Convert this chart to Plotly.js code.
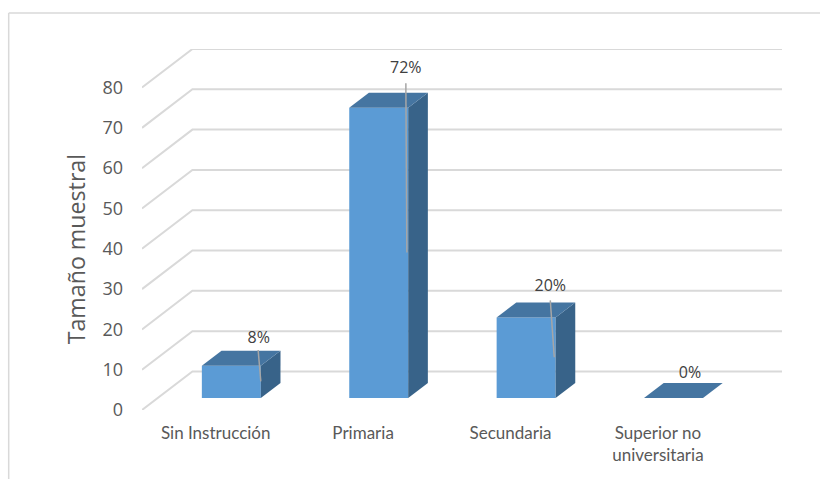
<!DOCTYPE html>
<html>
<head>
<meta charset="utf-8">
<script src="https://cdn.plot.ly/plotly-3.0.1.min.js"></script>
<style>html,body{margin:0;padding:0;background:#fff}#chart{width:820px;height:479px}</style>
</head>
<body>
<div id="chart"></div>
<script>
// Sample composition by education level, drawn as pseudo-3D columns.
const categories = ["Sin Instrucción", "Primaria", "Secundaria", "Superior no<br>universitaria"];
const percentages = [8, 72, 20, 0];
const yTicks = [0, 10, 20, 30, 40, 50, 60, 70, 80];

// Leader lines from each data label down into its column, in axis values.
const leaderTop = [14.9, 81.1, 27.2];
const leaderBottom = [7.1, 39.1, 13.1];
const leaderTopShift = [0.288, 0.29, 0.27];
const leaderBottomShift = [0.306, 0.297, 0.297];

// Data label anchors relative to each column.
const labelShiftX = [0.292, 0.29, 0.27, 0.218];
const labelShiftY = [9.7, 12.5, 10.6, 9.0];

// Oblique projection: axis units gained per unit of depth.
const depthX = 0.342;
const depthY = 9.57;
const project = (c, v, d) => [c + d * depthX, v + d * depthY];

// Depth placement of the columns inside the floor.
const barNear = 0.31;
const barFar = 0.70;
const barHalf = 0.2;

const gridColor = "#d9d9d9";
const textColor = "#595959";
const frontColor = "#5b9bd5";
const topColor = "#4575a1";
const sideColor = "#386389";

const polygon = (corners, color) => ({
  type: "scatter", mode: "lines", fill: "toself", fillcolor: color,
  x: corners.map(p => p[0]), y: corners.map(p => p[1]),
  line: { width: 0, color: color }, hoverinfo: "skip", showlegend: false
});

const traces = [];

// Column front faces: a real bar trace standing on the projected floor.
const floorY = barNear * depthY;
traces.push({
  type: "bar",
  x: categories.map((_, i) => i + barNear * depthX),
  y: percentages,
  base: percentages.map(() => floorY),
  width: barHalf * 2,
  marker: { color: frontColor, line: { width: 0 } },
  hoverinfo: "skip", showlegend: false
});

percentages.forEach((v, i) => {
  const l = i - barHalf, r = i + barHalf;
  if (v > 0) {
    traces.push(polygon([
      project(r, 0, barNear), project(r, 0, barFar),
      project(r, v, barFar), project(r, v, barNear), project(r, 0, barNear)
    ], sideColor));
  }
  traces.push(polygon([
    project(l, v, barNear), project(l, v, barFar),
    project(r, v, barFar), project(r, v, barNear), project(l, v, barNear)
  ], topColor));
});

// Gray leader lines.
leaderTop.forEach((t, i) => {
  traces.push({
    type: "scatter", mode: "lines",
    x: [i + leaderTopShift[i], i + leaderBottomShift[i]],
    y: [t, leaderBottom[i]],
    line: { color: "#a6a6a6", width: 1.5 },
    hoverinfo: "skip", showlegend: false
  });
});

// Percent labels.
traces.push({
  type: "scatter", mode: "text",
  x: percentages.map((_, i) => i + labelShiftX[i]),
  y: percentages.map((v, i) => v + labelShiftY[i]),
  text: percentages.map(v => v + "%"),
  textposition: "middle center",
  textfont: { family: "Open Sans, sans-serif", size: 16, color: "#404040" },
  cliponaxis: false, hoverinfo: "skip", showlegend: false
});

// Gridlines run back along the side wall, then across the rear wall.
const xMin = -0.5, xMax = 3.5;
const gridShapes = yTicks.map(v => {
  const a = project(xMin, v, 0), b = project(xMin, v, 1), c = project(xMax, v, 1);
  return {
    type: "path", xref: "x", yref: "y", layer: "below",
    path: `M${a[0]},${a[1]} L${b[0]},${b[1]} L${c[0]},${c[1]}`,
    line: { color: gridColor, width: 2 }
  };
});

// Chart frame along the top and left edges of the page.
const frameShapes = [
  { type: "line", xref: "paper", yref: "paper", layer: "below",
    x0: -133.3 / 640, x1: 1.06, y0: 1 + 36 / 361, y1: 1 + 36 / 361,
    line: { color: gridColor, width: 1.5 } },
  { type: "line", xref: "paper", yref: "paper", layer: "below",
    x0: -133.3 / 640, x1: -133.3 / 640, y0: 1 + 36 / 361, y1: -0.2,
    line: { color: gridColor, width: 1.5 } }
];

const layout = {
  width: 820, height: 479,
  margin: { l: 142.3, r: 38, t: 48.7, b: 69.0, pad: 0 },
  paper_bgcolor: "#fff", plot_bgcolor: "rgba(0,0,0,0)",
  font: { family: "Open Sans, sans-serif", color: textColor },
  showlegend: false,
  xaxis: {
    range: [xMin, xMax + depthX], tickmode: "array",
    tickvals: categories.map((_, i) => i), ticktext: categories,
    showgrid: false, zeroline: false, showline: false, ticks: "",
    tickfont: { family: "Lato, sans-serif", size: 17, color: textColor }, ticklabelstandoff: 11, tickangle: 0
  },
  yaxis: {
    range: [0, 80 + depthY], tickmode: "array",
    tickvals: yTicks, showgrid: false, zeroline: false, showline: false, ticks: "",
    tickfont: { size: 18, color: textColor }, ticklabelstandoff: 18
  },
  // Vertical axis caption, centred on the axis column rather than the plot height.
  annotations: [{
    text: "Tamaño muestral", textangle: -90, showarrow: false,
    xref: "paper", yref: "paper", xanchor: "center", yanchor: "middle",
    x: (76.5 - 142.3) / 640, y: (410 - 249) / 361.3,
    font: { size: 23.2, color: textColor }
  }],
  shapes: gridShapes.concat(frameShapes)
};

Plotly.newPlot("chart", traces, layout, { displayModeBar: false, staticPlot: true });
</script>
</body>
</html>
